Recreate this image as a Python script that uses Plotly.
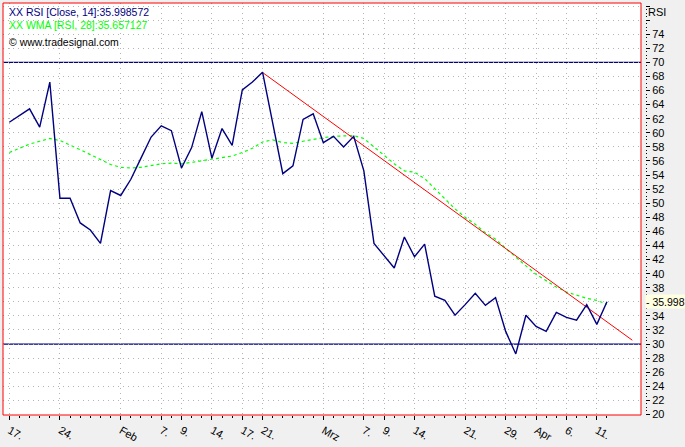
import plotly.graph_objects as go

# ---- data ----
rsi = [61.5, 62.4, 63.4, 60.8, 67.2, 50.7, 50.7, 47.2, 46.2, 44.3,
       51.8, 51.1, 53.4, 56.4, 59.4, 61.0, 60.3, 55.0, 57.9, 63.0,
       56.4, 60.6, 58.2, 66.1, 67.2, 68.6, 61.4, 54.2, 55.3, 61.9,
       62.7, 58.6, 59.5, 58.0, 59.5, 54.6, 44.3, 42.5, 40.8, 45.2,
       42.4, 44.2, 36.8, 36.2, 34.1, 35.6, 37.2, 35.5, 36.6, 31.8,
       28.6, 34.1, 32.5, 31.8, 34.5, 33.8, 33.4, 35.6, 32.8, 35.998572]
wma = [57.2, 57.8, 58.4, 58.8, 59.2, 58.9, 58.3, 57.6, 56.9, 56.2,
       55.5, 55.1, 55.0, 55.1, 55.4, 55.6, 55.7, 55.6, 55.8, 56.0,
       56.2, 56.4, 56.7, 57.2, 57.8, 58.7, 59.0, 58.6, 58.5, 58.8,
       59.1, 59.3, 59.5, 59.5, 59.6, 59.2, 58.0, 56.8, 55.6, 54.6,
       54.4, 53.5, 52.1, 50.6, 49.2, 48.0, 47.0, 45.8, 44.9, 43.6,
       42.3, 41.1, 39.9, 39.0, 38.1, 37.4, 36.9, 36.5, 36.2, 35.657127]
bar_index = list(range(len(rsi)))

tick_pos = [0, 5, 11, 15, 17, 20, 23, 25, 31, 35, 37, 40, 45, 49, 52, 55, 58]
tick_text = ["17.", "24.", "Feb", "7.", "9.", "14.", "17.", "21.", "Mrz",
             "7.", "9.", "14.", "21.", "29.", "Apr", "6.", "11."]

trend_x = [25, 61.5]
trend_y = [68.56, 30.55]

levels = [70, 30]

y_ticks = list(range(20, 80, 2))
y_labels = [str(v) if (v <= 74 and v != 36) else "" for v in y_ticks]

last_rsi_label = "35.998"

NAVY = "#000080"
GREEN = "#00ff00"
RED = "#ff0000"
FONT = "Liberation Sans"

fig = go.Figure()

fig.add_trace(go.Scatter(x=bar_index, y=wma, mode="lines",
                         line=dict(color=GREEN, width=1.2, dash="3px,3px"),
                         hoverinfo="skip"))
fig.add_trace(go.Scatter(x=trend_x, y=trend_y, mode="lines",
                         line=dict(color=RED, width=1), hoverinfo="skip"))
fig.add_trace(go.Scatter(x=bar_index, y=rsi, mode="lines",
                         line=dict(color=NAVY, width=1.4), hoverinfo="skip"))

shapes = []
for lv in levels:
    shapes.append(dict(type="line", xref="paper", yref="y", x0=0, x1=0.99377,
                       y0=lv, y1=lv, line=dict(color=NAVY, width=1.3),
                       layer="between"))
# strip between red border and the axis ticks
shapes.append(dict(type="rect", xref="paper", yref="paper", x0=0.99377, x1=1.0,
                   y0=0, y1=1, fillcolor="#f0f0f0", line=dict(width=0),
                   layer="above"))
# red frame
shapes.append(dict(type="rect", xref="paper", yref="paper", x0=0, x1=0.99377,
                   y0=0, y1=1, line=dict(color=RED, width=1),
                   fillcolor="rgba(0,0,0,0)", layer="above"))

annotations = [
    dict(xref="paper", yref="paper", x=0, y=1, xanchor="left", yanchor="middle",
         xshift=4, yshift=-9, showarrow=False,
         text="XX RSI [Close, 14]:35.998572",
         font=dict(family=FONT, size=10.5, color=NAVY)),
    dict(xref="paper", yref="paper", x=0, y=1, xanchor="left", yanchor="middle",
         xshift=4, yshift=-22, showarrow=False,
         text="XX WMA [RSI, 28]:35.657127",
         font=dict(family=FONT, size=10.5, color=GREEN)),
    dict(xref="paper", yref="paper", x=0, y=1, xanchor="left", yanchor="middle",
         xshift=4, yshift=-39, showarrow=False,
         text="\u00a9 www.tradesignal.com",
         font=dict(family=FONT, size=10.5, color="black")),
    dict(xref="paper", yref="paper", x=1, y=1, xanchor="left", yanchor="middle",
         xshift=1, yshift=-9, showarrow=False, text="RSI",
         font=dict(family=FONT, size=11, color="black")),
    dict(xref="paper", yref="y", x=1, y=rsi[-1], xanchor="left", yanchor="middle",
         showarrow=False, text="-\u00a0" + last_rsi_label,
         bgcolor="#ffffe1", width=40, height=13, align="left", borderpad=0,
         font=dict(family=FONT, size=10.5, color="black")),
]

fig.update_layout(
    width=685, height=447,
    margin=dict(l=3, r=40, t=3, b=26, pad=0),
    paper_bgcolor="#f0f0f0", plot_bgcolor="white",
    showlegend=False,
    font=dict(family=FONT, size=11, color="black"),
    shapes=shapes, annotations=annotations,
    xaxis=dict(range=[-0.622, 62.754], tickmode="array", tickvals=tick_pos,
               ticktext=tick_text, ticks="outside", ticklen=4, tickcolor="black",
               ticklabelposition="outside right", ticklabelstandoff=4,
               showgrid=True,
               gridcolor="#b4b4b4", griddash="1px,4px", gridwidth=1,
               zeroline=False, showline=False,
               tickfont=dict(family=FONT, size=11, color="black"),
               minor=dict(tickmode="array", tickvals=bar_index, ticks="outside",
                          ticklen=2, tickcolor="black", showgrid=False)),
    yaxis=dict(side="right", range=[19.93, 78.43], tickmode="array",
               tickvals=y_ticks, ticktext=y_labels, ticks="outside", ticklen=4,
               tickcolor="black", showgrid=True, gridcolor="#b4b4b4",
               griddash="1px,4px", gridwidth=1, zeroline=False, showline=False,
               tickfont=dict(family=FONT, size=11, color="black"),
               minor=dict(tick0=0, dtick=0.5, ticks="outside", ticklen=1,
                          tickcolor="black", showgrid=False)),
)

fig.write_html("out.html",
               config={"displayModeBar": False},
               post_script="document.body.style.margin='0';"
                           "document.body.style.overflow='hidden';")
